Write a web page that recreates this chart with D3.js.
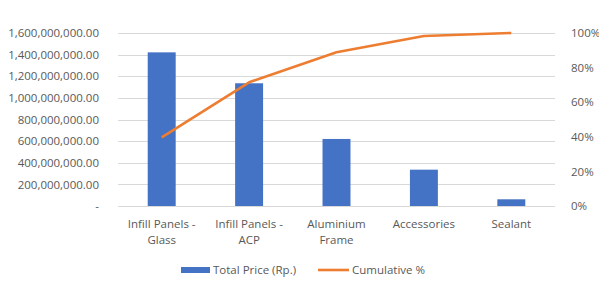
<!DOCTYPE html>
<html>
<head>
<meta charset="utf-8">
<script src="https://cdn.jsdelivr.net/npm/d3@7"></script>
<style>
  body { margin: 0; background: #fff; }
  text { font-family: "Open Sans", sans-serif; fill: #595959; }
</style>
</head>
<body>
<div id="chart"></div>
<script>
/* Pareto chart: total price per item + cumulative % */

const categories = [["Infill Panels -", "Glass"], ["Infill Panels -", "ACP"], ["Aluminium", "Frame"], ["Accessories"], ["Sealant"]];
const totalPrice = [1421000000, 1135000000, 620000000, 336000000, 62000000];
const cumulative = [0.397, 0.715, 0.889, 0.983, 1.0];
const leftTicks = [0, 200e6, 400e6, 600e6, 800e6, 1000e6, 1200e6, 1400e6, 1600e6];
const rightTicks = [0, 0.2, 0.4, 0.6, 0.8, 1.0];

const width = 599,
      height = 287,
      margin = ({top: 33, right: 44, bottom: 81, left: 118});
const fs = 11.5;

const svg = d3.select("#chart")
    .append("svg")
    .attr("width", width)
    .attr("height", height);

const keys = categories.map((c, i) => i);

let x = d3.scaleBand()
    .domain(keys)
    .range([margin.left, width - margin.right])
    .paddingInner(0.68)
    .paddingOuter(0.34);

let y = d3.scaleLinear()
    .domain([0, 1600e6])
    .range([height - margin.bottom, margin.top]);

let y2 = d3.scaleLinear()
    .domain([0, 1])
    .range([height - margin.bottom, margin.top]);

// gridlines
svg.append("g")
    .selectAll("line")
    .data(leftTicks)
    .join("line")
    .attr("x1", margin.left)
    .attr("x2", width - margin.right)
    .attr("y1", d => Math.round(y(d)) + 0.5)
    .attr("y2", d => Math.round(y(d)) + 0.5)
    .attr("stroke", "#d9d9d9")
    .attr("stroke-width", 1);

// left axis
const fmt = d3.format(",.2f");
const yAxis = g => g
    .attr("transform", `translate(${margin.left - 16},0)`)
    .call(d3.axisLeft(y).tickValues(leftTicks).tickSize(0)
        .tickFormat(d => d === 0 ? "-" : fmt(d)))
    .call(g => g.select(".domain").remove())
    .call(g => g.selectAll("text").attr("font-size", fs).attr("fill", "#595959")
        .attr("font-family", "Open Sans, sans-serif"));

svg.append("g").call(yAxis);

// right axis
const y2Axis = g => g
    .attr("transform", `translate(${width - margin.right + 13},0)`)
    .call(d3.axisRight(y2).tickValues(rightTicks).tickSize(0)
        .tickFormat(d3.format(".0%")))
    .call(g => g.select(".domain").remove())
    .call(g => g.selectAll("text").attr("font-size", fs).attr("fill", "#595959")
        .attr("font-family", "Open Sans, sans-serif"));

svg.append("g").call(y2Axis);

// bars
svg.append("g")
    .selectAll("rect")
    .data(totalPrice)
    .join("rect")
    .attr("fill", "#4472c4")
    .attr("x", (d, i) => x(i))
    .attr("width", x.bandwidth())
    .attr("y", d => y(d))
    .attr("height", d => y(0) - y(d));

// cumulative line
const line = d3.line()
    .x((d, i) => x(i) + x.bandwidth() / 2)
    .y(d => y2(d));

svg.append("path")
    .datum(cumulative)
    .attr("fill", "none")
    .attr("stroke", "#ed7d31")
    .attr("stroke-width", 2.6)
    .attr("stroke-linejoin", "round")
    .attr("d", line);

// category labels
const lab = svg.append("g")
    .selectAll("text")
    .data(categories)
    .join("text")
    .attr("text-anchor", "middle")
    .attr("font-size", fs)
    .attr("x", (d, i) => x(i) + x.bandwidth() / 2)
    .attr("y", height - margin.bottom + 22);

lab.selectAll("tspan")
    .data(d => d)
    .join("tspan")
    .attr("x", function() { return d3.select(this.parentNode).attr("x"); })
    .attr("dy", (d, i) => i === 0 ? 0 : 16)
    .text(d => d);

// legend
const legend = svg.append("g").attr("font-size", fs);
legend.append("rect")
    .attr("x", 181).attr("y", 267)
    .attr("width", 29).attr("height", 6)
    .attr("fill", "#4472c4");
legend.append("text")
    .attr("x", 213).attr("y", 274)
    .text("Total Price (Rp.)");
legend.append("line")
    .attr("x1", 318).attr("x2", 349)
    .attr("y1", 270).attr("y2", 270)
    .attr("stroke", "#ed7d31")
    .attr("stroke-width", 2.6);
legend.append("text")
    .attr("x", 352).attr("y", 274)
    .text("Cumulative %");
</script>
</body>
</html>
